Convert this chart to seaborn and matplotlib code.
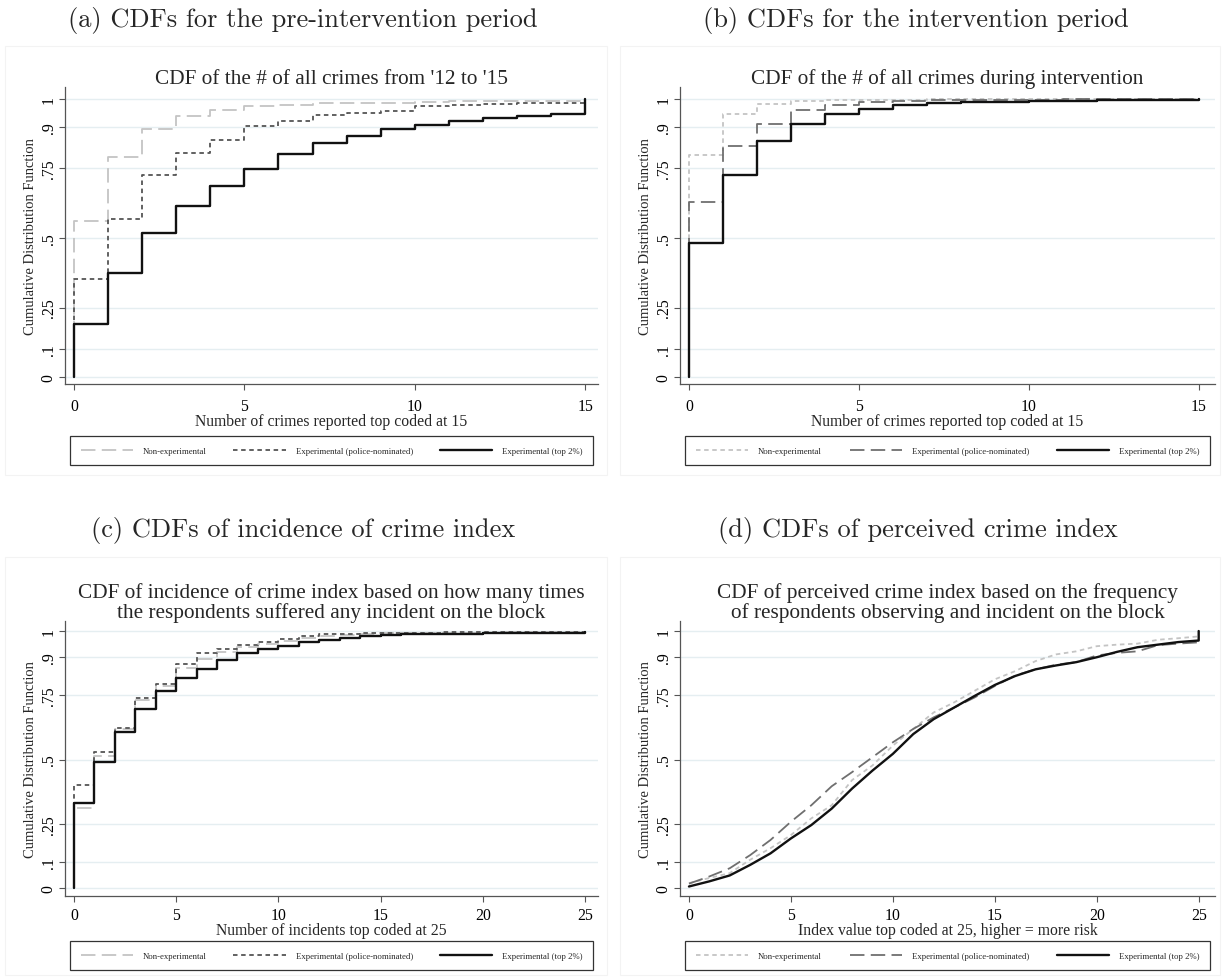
import pandas as pd
import seaborn as sns
import matplotlib.pyplot as plt
from matplotlib.patches import Rectangle

# ---- data ----
GROUPS = ['Non-experimental', 'Experimental (police-nominated)', 'Experimental (top 2%)']

YTICKS = [0, 0.1, 0.25, 0.5, 0.75, 0.9, 1]
YTICK_LABELS = ['0', '.1', '.25', '.5', '.75', '.9', '1']

# (a) pre-intervention period, number of crimes 0..15
A_X = list(range(16))
a_non = [0.561, 0.792, 0.891, 0.937, 0.961, 0.973, 0.978, 0.984, 0.987, 0.987,
         0.990, 0.991, 0.992, 0.992, 0.993, 0.995]
a_pol = [0.352, 0.567, 0.727, 0.805, 0.853, 0.901, 0.921, 0.943, 0.949, 0.958,
         0.973, 0.977, 0.982, 0.984, 0.984, 0.989]
a_top = [0.190, 0.375, 0.519, 0.616, 0.686, 0.747, 0.803, 0.842, 0.868, 0.891,
         0.906, 0.922, 0.931, 0.938, 0.947, 1.000]

# (b) intervention period, number of crimes 0..15
B_X = list(range(16))
b_non = [0.800, 0.945, 0.981, 0.993, 0.996, 0.998, 0.998, 0.999, 0.999, 0.999,
         0.999, 1.000, 1.000, 1.000, 1.000, 1.000]
b_pol = [0.630, 0.832, 0.909, 0.961, 0.977, 0.989, 0.994, 0.996, 0.996, 0.997,
         0.998, 0.999, 0.999, 1.000, 1.000, 1.000]
b_top = [0.482, 0.727, 0.848, 0.910, 0.945, 0.963, 0.977, 0.984, 0.989, 0.989,
         0.994, 0.994, 0.996, 0.996, 0.996, 1.000]

# (c) incidence of crime index, 0..25
C_X = list(range(26))
c_non = [0.313, 0.514, 0.619, 0.733, 0.786, 0.857, 0.892, 0.920, 0.937, 0.948,
         0.961, 0.972, 0.982, 0.986, 0.988, 0.991, 0.992, 0.993, 0.993, 0.994,
         0.994, 0.995, 0.995, 0.995, 0.996, 0.997]
c_pol = [0.399, 0.528, 0.621, 0.740, 0.793, 0.872, 0.915, 0.930, 0.947, 0.956,
         0.970, 0.979, 0.987, 0.990, 0.992, 0.992, 0.993, 0.994, 0.995, 0.996,
         0.997, 0.997, 0.998, 0.998, 0.998, 0.999]
c_top = [0.331, 0.492, 0.608, 0.698, 0.765, 0.817, 0.852, 0.888, 0.914, 0.929,
         0.943, 0.956, 0.966, 0.974, 0.979, 0.983, 0.987, 0.990, 0.990, 0.990,
         0.992, 0.992, 0.992, 0.992, 0.992, 0.997]

# (d) perceived crime index, 0..25 (top 2% jumps to 1 at the top code)
D_X = list(range(26))
D_TOP_X = list(range(26)) + [25]
d_non = [0.019, 0.039, 0.058, 0.110, 0.155, 0.206, 0.271, 0.322, 0.420, 0.477,
         0.554, 0.619, 0.683, 0.722, 0.767, 0.812, 0.844, 0.883, 0.909, 0.921,
         0.941, 0.947, 0.951, 0.966, 0.972, 0.979]
d_pol = [0.017, 0.045, 0.077, 0.128, 0.187, 0.258, 0.322, 0.396, 0.451, 0.509,
         0.567, 0.619, 0.664, 0.702, 0.741, 0.786, 0.827, 0.851, 0.869, 0.879,
         0.905, 0.915, 0.921, 0.945, 0.951, 0.956]
d_top = [0.006, 0.026, 0.049, 0.090, 0.135, 0.193, 0.245, 0.309, 0.387, 0.457,
         0.522, 0.599, 0.657, 0.702, 0.747, 0.790, 0.825, 0.851, 0.866, 0.879,
         0.898, 0.919, 0.937, 0.947, 0.957, 0.963, 1.000]

# ---- style ----
sns.set_theme(style='white')
plt.rcParams['font.family'] = ['Liberation Serif', 'DejaVu Serif']

W, H = 1222, 978
fig = plt.figure(figsize=(W / 100, H / 100), dpi=100)

LIGHT = '#c4c4c4'
DARK = '#555555'
MID = '#6f6f6f'
BLACK = '#111111'
LONG = (8, 3.5)
SHORT = (2.5, 2)


def make_df(series, step=True):
    frames = []
    for g, (xs, ys) in zip(GROUPS, series):
        xs, ys = list(xs), list(ys)
        if step:
            xs = [xs[0]] + xs
            ys = [0.0] + ys
        frames.append(pd.DataFrame({'x': xs, 'cdf': ys, 'group': g}))
    return pd.concat(frames, ignore_index=True)


def px_axes(l, t, r, b):
    return fig.add_axes([l / W, 1 - b / H, (r - l) / W, (b - t) / H])


def draw(ax, df, colors, dashes, step, xticks, xlim, ylim, title, xlabel,
         leg_top, xpad):
    sns.lineplot(data=df, x='x', y='cdf', hue='group', style='group',
                 hue_order=GROUPS, style_order=GROUPS,
                 palette=dict(zip(GROUPS, colors)), dashes=dict(zip(GROUPS, dashes)),
                 estimator=None, drawstyle='steps-post' if step else 'default',
                 lw=1.3, legend=False, ax=ax)
    lines = ax.get_lines()
    lines[2].set_linewidth(1.7)

    ax.set_xlim(*xlim)
    ax.set_ylim(*ylim)
    ax.set_xticks(xticks)
    ax.set_xticklabels([str(t) for t in xticks])
    ax.set_yticks(YTICKS)
    ax.set_yticklabels(YTICK_LABELS, rotation=90, va='center')
    ax.grid(axis='y', color='#e5eef1', lw=1.0)
    ax.grid(axis='x', visible=False)
    ax.set_axisbelow(True)
    sns.despine(ax=ax)
    for s in ['left', 'bottom']:
        ax.spines[s].set_color('#555555')
        ax.spines[s].set_linewidth(0.9)
    ax.tick_params(bottom=True, left=True, length=4, width=0.8, color='#555555',
                   labelsize=11.3, labelcolor='black')
    ax.tick_params(axis='x', pad=xpad)
    ax.tick_params(axis='y', pad=2)

    ax.set_title(title, fontsize=15.3, pad=3, linespacing=1.0)
    ax.set_xlabel(xlabel, fontsize=11.3, labelpad=-0.5)
    ax.set_ylabel('Cumulative Distribution Function', fontsize=10.5, labelpad=2.5)

    ax_h = ax.get_position().height * H
    ax.legend(lines, GROUPS, loc='upper left',
              bbox_to_anchor=(0.01, -leg_top / ax_h, 0.98, 0), mode='expand',
              ncol=3, fontsize=6.3, handlelength=6, handletextpad=1.1,
              columnspacing=2.3, borderpad=1.2, frameon=True,
              fancybox=False, edgecolor='#333333', framealpha=1, borderaxespad=0)
    ax.get_legend().get_frame().set_linewidth(0.9)


# faint graph-region frames
for (x0, y0, x1, y1) in [(5, 47, 607, 476), (620, 47, 1220, 476),
                         (5, 558, 607, 976), (620, 558, 1220, 976)]:
    fig.add_artist(Rectangle((x0 / W, 1 - y1 / H), (x1 - x0) / W, (y1 - y0) / H,
                             transform=fig.transFigure, fill=False,
                             ec='#f3f3f3', lw=0.8))

# panel headings (LaTeX-style)
for x, y, txt in [(303, 21, '(a) CDFs for the pre-intervention period'),
                  (916, 21, '(b) CDFs for the intervention period'),
                  (303, 530, '(c) CDFs of incidence of crime index'),
                  (918, 530, '(d) CDFs of perceived crime index')]:
    fig.text(x / W, 1 - y / H, txt, ha='center', va='center', fontsize=19,
             family='cmr10')

# (a)
ax_a = px_axes(65, 88, 598, 385)
draw(ax_a, make_df([(A_X, a_non), (A_X, a_pol), (A_X, a_top)]),
     [LIGHT, DARK, BLACK], [LONG, SHORT, ''], True, [0, 5, 10, 15],
     (-0.26, 15.37), (-0.025, 1.043),
     "CDF of the # of all crimes from '12 to '15",
     'Number of crimes reported top coded at 15', 52, 6)

# (b)
ax_b = px_axes(680, 88, 1215, 385)
draw(ax_b, make_df([(B_X, b_non), (B_X, b_pol), (B_X, b_top)]),
     [LIGHT, MID, BLACK], [SHORT, LONG, ''], True, [0, 5, 10, 15],
     (-0.26, 15.47), (-0.025, 1.043),
     'CDF of the # of all crimes during intervention',
     'Number of crimes reported top coded at 15', 52, 6)

# (c)
ax_c = px_axes(65, 622, 598, 897)
draw(ax_c, make_df([(C_X, c_non), (C_X, c_pol), (C_X, c_top)]),
     [LIGHT, DARK, BLACK], [LONG, SHORT, ''], True, [0, 5, 10, 15, 20, 25],
     (-0.44, 25.64), (-0.031, 1.039),
     'CDF of incidence of crime index based on how many times\n'
     'the respondents suffered any incident on the block',
     'Number of incidents top coded at 25', 45, 4)

# (d)
ax_d = px_axes(680, 622, 1215, 897)
draw(ax_d, make_df([(D_X, d_non), (D_X, d_pol), (D_TOP_X, d_top)], step=False),
     [LIGHT, MID, BLACK], [SHORT, LONG, ''], False, [0, 5, 10, 15, 20, 25],
     (-0.44, 25.8), (-0.031, 1.039),
     'CDF of perceived crime index based on the frequency\n'
     'of respondents observing and incident on the block',
     'Index value top coded at 25, higher = more risk', 45, 4)

fig.savefig('out.png', dpi=100)
